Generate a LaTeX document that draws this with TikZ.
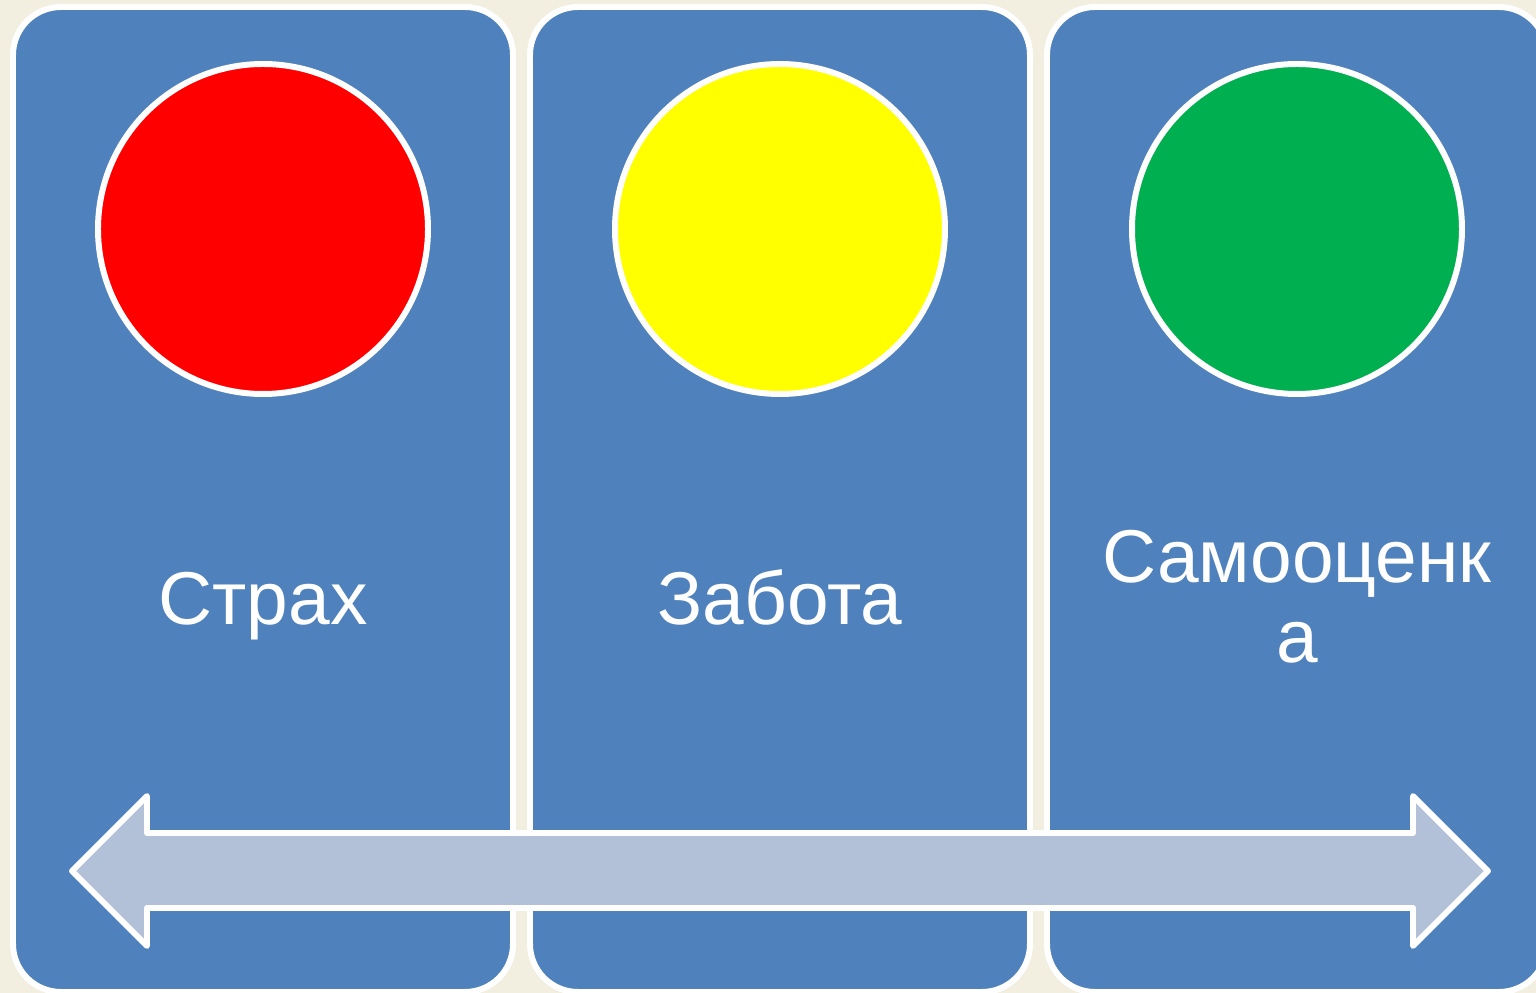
\documentclass[tikz,border=0pt]{standalone}
\usepackage{fontspec}
\setmainfont{Liberation Sans}
\definecolor{paper}{RGB}{242,239,224}
\definecolor{panelblue}{RGB}{79,129,189}
\definecolor{shaftblue}{RGB}{179,193,216}
\definecolor{lampred}{RGB}{255,0,0}
\definecolor{lampyellow}{RGB}{255,255,0}
\definecolor{lampgreen}{RGB}{0,176,80}
\tikzset{
 panel/.style={draw=white, line width=1.7pt, fill=panelblue, rounded corners=4.8mm,
   minimum width=50mm, minimum height=98.5mm, inner sep=0},
 lamp/.style={circle, draw=white, line width=1.7pt, minimum size=33mm, inner sep=0},
 caption/.style={text=white, align=center, font=\fontsize{21.3}{22.8}\selectfont},
}
\begin{document}
\begin{tikzpicture}[x=0.1mm, y=-0.1mm]
\clip (0,0) rectangle (1536,993);
\fill[paper] (0,0) rectangle (1536,993);
% three panels with lamps
\foreach \x/\c/\n in {263/lampred/1, 780/lampyellow/2, 1297/lampgreen/3} {
 \node[panel] (box\n) at (\x,499.5) {};
 \node[lamp, fill=\c] (lamp\n) at (\x,229) {};
}
\node[caption, anchor=base] (fear) at (263,625) {Страх};
\node[caption, anchor=base] (care) at (780,625) {Забота};
\node[caption] (esteem) at (1297,597) {Самооценк\\а};
% double arrow across the panels
\draw[white, line width=1.7pt, fill=shaftblue, line join=round]
 (72,871) -- (147,796) -- (147,833) -- (1413,833) -- (1413,796) -- (1488,871)
 -- (1413,946) -- (1413,908) -- (147,908) -- (147,946) -- cycle;
\end{tikzpicture}
\end{document}
